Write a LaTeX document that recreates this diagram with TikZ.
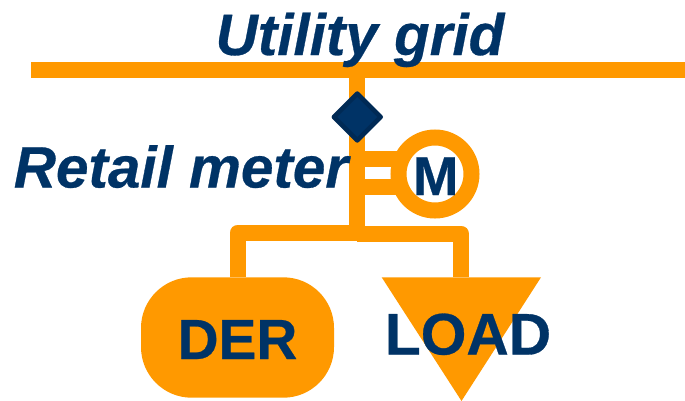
\documentclass[tikz,border=0pt]{standalone}
\usepackage{fontspec}
\setmainfont[BoldFeatures={FakeBold=0.5},BoldItalicFeatures={FakeBold=0.5}]{Liberation Sans}
\usetikzlibrary{shapes.geometric}
\definecolor{wire}{HTML}{FF9900}
\definecolor{navy}{HTML}{003366}
\definecolor{navyedge}{HTML}{002A55}
\tikzset{
  wireline/.style={draw=wire,line width=12pt,line join=round},
  bigtext/.style={text=navy,font=\fontsize{#1}{46}\selectfont\bfseries,inner sep=0pt,anchor=base},
  titletext/.style={text=navy,font=\fontsize{#1}{46}\selectfont\bfseries\itshape,inner sep=0pt,anchor=base},
  meterdiamond/.style={diamond,aspect=1,fill=navy,draw=navyedge,line width=3.5pt,line join=round,minimum width=36.5pt,minimum height=36.5pt,inner sep=0pt},
  metercircle/.style={circle,draw=wire,line width=12pt,fill=white,minimum size=54.75pt,inner sep=0pt},
  derbox/.style={rectangle,rounded corners=38pt,fill=wire,minimum width=144.75pt,minimum height=90.3pt,inner sep=0pt},
}
\begin{document}
\begin{tikzpicture}[x=0.75pt,y=-0.75pt]
\useasboundingbox (0,0) rectangle (685,400);
% anchors
\coordinate (gridL) at (31,69.5);
\coordinate (gridR) at (685,69.5);
\coordinate (gridT) at (357,69.5);
\coordinate (busB) at (357,233);
\coordinate (tapA) at (357,159);
\coordinate (tapB) at (357,187);
\coordinate (derTop) at (237.7,232.5);
\coordinate (loadTop) at (461.3,233.7);
\coordinate (triL) at (381.7,277.3);
\coordinate (triR) at (541,277.3);
\coordinate (triB) at (461.5,401);
\coordinate (tapJ) at (357,232.5);
\coordinate (tapK) at (357,233.7);
% grid and riser
\draw[wireline] (gridL) -- (gridR);
\draw[wireline] (gridT) -- (busB);
% shapes
\node[meterdiamond] (rm) at (357.3,117) {};
\node[metercircle] (m) at (435,174) {};
\draw[wireline] (tapA) -- ([xshift=6pt]tapA -| m.west);
\draw[wireline] (tapB) -- ([xshift=6pt]tapB -| m.west);
\node[derbox] (der) at (237.5,337.5) {};
\draw[wireline] (tapJ) -- (derTop) -- (der.north -| derTop);
\draw[wireline] (tapK) -- (loadTop) -- (loadTop |- triL);
\fill[wire] (triL) -- (triR) -- (triB) -- cycle;
% texts
\node[titletext=43.8] (ug) at (360,55) {Utility grid};
\node[titletext=43.8] (rt) at (181,187.5) {Retail meter};
\node[bigtext=41] (mt) at (435.7,195) {M};
\node[bigtext=42.5] (dt) at (237.5,359) {DER};
\node[bigtext=44] (lt) at (468,354.5) {LOAD};
\end{tikzpicture}
\end{document}
